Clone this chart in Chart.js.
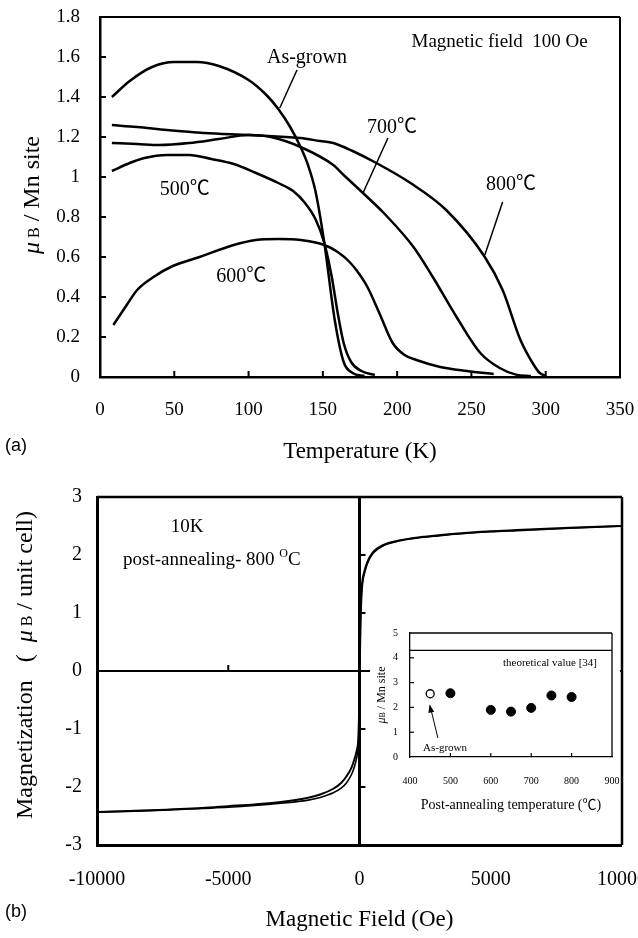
<!DOCTYPE html>
<html>
<head>
<meta charset="utf-8">
<script src="https://cdn.jsdelivr.net/npm/chart.js@4.4.0/dist/chart.umd.min.js"></script>
<style>
  html, body { margin: 0; padding: 0; background: #fff; }
  #page { position: relative; width: 638px; height: 938px; overflow: hidden; }
  canvas { position: absolute; }
</style>
</head>
<body>
<div id="page">
  <canvas id="mt" width="638" height="470" style="left:0;top:0"></canvas>
  <canvas id="mh" width="638" height="468" style="left:0;top:470px"></canvas>
  <canvas id="ms" width="250" height="196" style="left:370px;top:622px"></canvas>
</div>
<script>
// (a) magnetisation vs temperature, field 100 Oe
const tAsGrown = [8, 20, 35, 50, 65, 80, 100, 112, 120, 128, 135, 140, 145, 151, 158, 164, 170, 178];
const mAsGrown = [1.40, 1.48, 1.55, 1.575, 1.575, 1.555, 1.485, 1.41, 1.34, 1.25, 1.15, 1.06, 0.93, 0.67, 0.285, 0.075, 0.02, 0.005];
const t500 = [8, 20, 30, 45, 60, 75, 90, 105, 120, 130, 138, 145, 151, 156, 160, 164, 169, 176, 185];
const m500 = [1.03, 1.07, 1.095, 1.11, 1.11, 1.09, 1.065, 1.02, 0.97, 0.93, 0.87, 0.79, 0.67, 0.50, 0.32, 0.17, 0.075, 0.03, 0.01];
const t600 = [9, 18, 25, 36, 49, 67, 90, 105, 120, 135, 151, 160, 168, 175, 180, 188, 197, 205, 213, 229, 247, 265];
const m600 = [0.26, 0.36, 0.435, 0.50, 0.555, 0.60, 0.66, 0.685, 0.69, 0.685, 0.66, 0.625, 0.575, 0.51, 0.45, 0.32, 0.17, 0.11, 0.085, 0.05, 0.03, 0.015];
const t700 = [8, 25, 40, 60, 80, 100, 115, 135, 157, 164, 177, 191, 211, 224, 240, 256, 269, 280, 290];
const m700 = [1.17, 1.165, 1.16, 1.17, 1.19, 1.21, 1.20, 1.15, 1.06, 1.01, 0.92, 0.82, 0.65, 0.50, 0.30, 0.12, 0.045, 0.012, 0.005];
const t800 = [8, 25, 45, 70, 101, 125, 135, 148, 157, 170, 186, 209, 233, 259, 271, 283, 292, 296, 300];
const m800 = [1.26, 1.25, 1.235, 1.22, 1.21, 1.20, 1.195, 1.18, 1.17, 1.13, 1.07, 0.97, 0.835, 0.60, 0.435, 0.185, 0.06, 0.02, 0.005];

// (b) M–H loop at 10 K, both sweep directions on one field grid
const field = [-10000, -8000, -6000, -5000, -4000, -3000, -2000, -1500, -1000, -700, -500, -300, -200, -100, -50, -20, 0,
  20, 50, 100, 200, 300, 500, 700, 1000, 1500, 2000, 3000, 4000, 5000, 6000, 8000, 10000];
const mSweepDown = [-2.43, -2.40, -2.36, -2.33, -2.30, -2.26, -2.19, -2.13, -2.03, -1.93, -1.82, -1.66, -1.53, -1.36, -1.2, -0.8, -0.15,
  0.6, 1.2, 1.52, 1.74, 1.88, 2.04, 2.12, 2.19, 2.25, 2.29, 2.34, 2.38, 2.41, 2.43, 2.47, 2.50];
const mSweepUp = [-2.43, -2.41, -2.37, -2.35, -2.32, -2.28, -2.23, -2.18, -2.10, -2.02, -1.93, -1.78, -1.66, -1.48, -1.33, -1.1, -0.6,
  0.15, 0.9, 1.42, 1.70, 1.85, 2.02, 2.10, 2.18, 2.24, 2.28, 2.33, 2.37, 2.40, 2.42, 2.46, 2.50];

// inset: saturation moment vs post-annealing temperature
const annealTemp = [500, 600, 650, 700, 750, 800];
const annealMoment = [2.57, 1.9, 1.83, 1.98, 2.48, 2.42];
const asGrownTemp = [450];
const asGrownMoment = [2.55];
const theoryValue = 4.3;

const SERIF = "'Liberation Serif', 'Noto Sans CJK JP', serif";
const font = (size, style) => (style ? style + ' ' : '') + size + 'px ' + SERIF;

Chart.defaults.font.family = SERIF;
Chart.defaults.color = '#000';
Chart.defaults.animation = false;
Chart.defaults.plugins.legend.display = false;
Chart.defaults.plugins.tooltip.enabled = false;

const zip = (xs, ys) => xs.map((x, i) => ({ x, y: ys[i] }));
const trimNum = v => String(+v.toFixed(2));

// keep the plot box where it is, end labels may hang over the edges
function fixSize(size, horizontal) {
  return s => {
    if (horizontal) s.height = size; else s.width = size;
    s.paddingLeft = s.paddingRight = s.paddingTop = s.paddingBottom = 0;
  };
}

function curve(xs, ys, width) {
  return {
    data: zip(xs, ys),
    showLine: true,
    borderColor: '#000',
    borderWidth: width,
    pointRadius: 0,
    cubicInterpolationMode: 'monotone',
  };
}

function seg(ctx, x1, y1, x2, y2, w) {
  ctx.save();
  ctx.strokeStyle = '#000';
  ctx.lineWidth = w;
  ctx.beginPath();
  ctx.moveTo(x1, y1);
  ctx.lineTo(x2, y2);
  ctx.stroke();
  ctx.restore();
}

// text made of pieces with their own fonts; y is the baseline
function rich(ctx, x, y, parts, opts = {}) {
  ctx.save();
  ctx.translate(x, y);
  if (opts.rotate) ctx.rotate(-Math.PI / 2);
  let width = 0;
  parts.forEach(p => { ctx.font = p.font; width += ctx.measureText(p.text).width; });
  let cx = opts.align === 'left' ? 0 : -width / 2;
  ctx.fillStyle = '#000';
  ctx.textBaseline = 'alphabetic';
  ctx.textAlign = 'left';
  parts.forEach(p => {
    ctx.font = p.font;
    ctx.fillText(p.text, cx, p.dy || 0);
    cx += ctx.measureText(p.text).width;
  });
  ctx.restore();
}

function label(ctx, text, x, y, f, align) {
  ctx.save();
  ctx.font = f;
  ctx.fillStyle = '#000';
  ctx.textAlign = align || 'center';
  ctx.textBaseline = 'middle';
  ctx.fillText(text, x, y);
  ctx.restore();
}

const at = (chart, x, y) => [chart.scales.x.getPixelForValue(x), chart.scales.y.getPixelForValue(y)];

function frameTopRight(chart, w) {
  const { ctx, chartArea: a } = chart;
  seg(ctx, a.left, a.top, a.right, a.top, w);
  seg(ctx, a.right, a.top, a.right, a.bottom, w);
}

// ---------- (a) ----------
new Chart(document.getElementById('mt'), {
  type: 'scatter',
  data: {
    datasets: [
      curve(tAsGrown, mAsGrown, 2.5),
      curve(t500, m500, 2.5),
      curve(t600, m600, 2.5),
      curve(t700, m700, 2.5),
      curve(t800, m800, 2.5),
    ],
  },
  options: {
    responsive: false,
    layout: { padding: { top: 17, right: 18, left: 0, bottom: 0 } },
    scales: {
      x: {
        type: 'linear', min: 0, max: 350,
        ticks: { stepSize: 50, padding: 14, font: { size: 19 }, callback: v => String(v) },
        grid: { display: false },
        border: { color: '#000', width: 2.5 },
        afterFit: fixSize(93, true),
      },
      y: {
        type: 'linear', min: 0, max: 1.8,
        ticks: { stepSize: 0.2, padding: 12, font: { size: 19 }, callback: trimNum },
        grid: { display: false },
        border: { color: '#000', width: 2.5 },
        afterFit: fixSize(100, false),
      },
    },
  },
  plugins: [{
    id: 'mtDecor',
    afterDraw(chart) {
      const { ctx, chartArea: a } = chart;
      frameTopRight(chart, 2);
      chart.scales.x.ticks.forEach(t => {
        if (t.value <= 0 || t.value >= 350) return;
        const x = chart.scales.x.getPixelForValue(t.value);
        seg(ctx, x, a.bottom, x, a.bottom - 6, 2);
      });
      chart.scales.y.ticks.forEach(t => {
        if (t.value <= 0 || t.value >= 1.8) return;
        const y = chart.scales.y.getPixelForValue(t.value);
        seg(ctx, a.left, y, a.left + 6, y, 2);
      });

      // leader lines from the labels to their curves
      [[[132.6, 1.535], [121, 1.345]], [[193.8, 1.195], [177, 0.92]], [[271, 0.875], [259, 0.61]]]
        .forEach(([p, q]) => {
          const [x1, y1] = at(chart, p[0], p[1]);
          const [x2, y2] = at(chart, q[0], q[1]);
          seg(ctx, x1, y1, x2, y2, 1.5);
        });

      const f20 = font(20);
      label(ctx, 'As-grown', ...at(chart, 139.3, 1.595), f20);
      label(ctx, 'Magnetic field  100 Oe', ...at(chart, 269, 1.675), font(19));
      label(ctx, '700℃', ...at(chart, 196.5, 1.245), f20);
      label(ctx, '800℃', ...at(chart, 276.6, 0.96), f20);
      label(ctx, '500℃', ...at(chart, 57, 0.935), f20);
      label(ctx, '600℃', ...at(chart, 95, 0.50), f20);

      label(ctx, 'Temperature (K)', (a.left + a.right) / 2, a.bottom + 75, font(23));
      rich(ctx, 31 + 8, 195, [
        { text: 'μ', font: font(24, 'italic') },
        { text: ' B', font: font(16) },
        { text: ' / Mn site', font: font(24) },
      ], { rotate: true });
      label(ctx, '(a)', 5, 446, "18px 'Liberation Sans', sans-serif", 'left');
    },
  }],
});

// ---------- (b) ----------
const zeroOnly = (on, off) => c => (c.tick && c.tick.value === 0 ? on : off);

new Chart(document.getElementById('mh'), {
  type: 'scatter',
  data: {
    datasets: [
      curve(field, mSweepDown, 2),
      curve(field, mSweepUp, 1.6),
    ],
  },
  options: {
    responsive: false,
    layout: { padding: { top: 27, right: 16, left: 0, bottom: 0 } },
    scales: {
      x: {
        type: 'linear', min: -10000, max: 10000,
        ticks: { stepSize: 5000, padding: 23, font: { size: 20 }, callback: v => String(v) },
        grid: { drawTicks: false, color: zeroOnly('#000', 'rgba(0,0,0,0)'), lineWidth: zeroOnly(3, 0) },
        border: { color: '#000', width: 3 },
        afterFit: fixSize(93, true),
      },
      y: {
        type: 'linear', min: -3, max: 3,
        ticks: { stepSize: 1, padding: 15, font: { size: 20 }, callback: v => String(v) },
        grid: { drawTicks: false, color: zeroOnly('#000', 'rgba(0,0,0,0)'), lineWidth: zeroOnly(2, 0) },
        border: { color: '#000', width: 3 },
        afterFit: fixSize(97, false),
      },
    },
  },
  plugins: [{
    id: 'mhDecor',
    afterDraw(chart) {
      const { ctx, chartArea: a } = chart;
      frameTopRight(chart, 2.5);
      const [x0, y0] = at(chart, 0, 0);
      [-5000, 5000].forEach(v => {
        const x = chart.scales.x.getPixelForValue(v);
        seg(ctx, x, y0, x, y0 - 6, 2);
      });
      [-2, -1, 1, 2].forEach(v => {
        const y = chart.scales.y.getPixelForValue(v);
        seg(ctx, x0, y, x0 + 6, y, 2);
      });

      label(ctx, '10K', ...at(chart, -6565, 2.48), font(19));
      const [px, py] = at(chart, -9008, 1.95);
      rich(ctx, px, py + 7, [
        { text: 'post-annealing- 800 ', font: font(19) },
        { text: 'O', font: font(12), dy: -8 },
        { text: 'C', font: font(19) },
      ], { align: 'left' });

      label(ctx, 'Magnetic Field (Oe)', (a.left + a.right) / 2, a.bottom + 75, font(23));
      rich(ctx, 24 + 8, 195, [
        { text: 'Magnetization   (  ', font: font(24) },
        { text: 'μ', font: font(24, 'italic') },
        { text: ' B', font: font(16) },
        { text: ' / unit cell)', font: font(24) },
      ], { rotate: true });
      label(ctx, '(b)', 5, 442, "18px 'Liberation Sans', sans-serif", 'left');
    },
  }],
});

// ---------- inset ----------
new Chart(document.getElementById('ms'), {
  type: 'scatter',
  data: {
    datasets: [
      { data: [{ x: 400, y: theoryValue }, { x: 900, y: theoryValue }], showLine: true,
        borderColor: '#000', borderWidth: 1.2, pointRadius: 0 },
      { data: zip(annealTemp, annealMoment), pointRadius: 4.5, backgroundColor: '#000', borderColor: '#000' },
      { data: zip(asGrownTemp, asGrownMoment), pointRadius: 4, backgroundColor: '#fff',
        borderColor: '#000', borderWidth: 1.3 },
    ],
  },
  options: {
    responsive: false,
    layout: { padding: { top: 11, right: 8, left: 0, bottom: 0 } },
    scales: {
      x: {
        type: 'linear', min: 400, max: 900,
        ticks: { stepSize: 100, padding: 10, font: { size: 10 }, callback: v => String(v) },
        grid: { display: false },
        border: { color: '#000', width: 1.3 },
        afterFit: fixSize(61, true),
      },
      y: {
        type: 'linear', min: 0, max: 5,
        ticks: { stepSize: 1, padding: 4, font: { size: 10 }, callback: v => String(v) },
        grid: { display: false },
        border: { color: '#000', width: 1.3 },
        afterFit: fixSize(40, false),
      },
    },
  },
  plugins: [{
    id: 'insetDecor',
    beforeDraw(chart) {
      const { ctx, width, height } = chart;
      ctx.save();
      ctx.fillStyle = '#fff';
      ctx.fillRect(0, 0, width, height);
      ctx.restore();
    },
    afterDraw(chart) {
      const { ctx, chartArea: a } = chart;
      frameTopRight(chart, 1.3);
      chart.scales.x.ticks.forEach(t => {
        if (t.value <= 400 || t.value >= 900) return;
        const x = chart.scales.x.getPixelForValue(t.value);
        seg(ctx, x, a.bottom, x, a.bottom - 4, 1.2);
      });
      chart.scales.y.ticks.forEach(t => {
        if (t.value <= 0 || t.value >= 5) return;
        const y = chart.scales.y.getPixelForValue(t.value);
        seg(ctx, a.left, y, a.left + 4, y, 1.2);
      });

      label(ctx, 'theoretical value [34]', ...at(chart, 746.5, 3.8), font(11));
      label(ctx, 'As-grown', ...at(chart, 486.6, 0.36), font(11));
      // arrow from the label up to the open circle
      const [ax, ay] = at(chart, 469, 0.77);
      const [bx, by] = at(chart, 449.5, 2.2);
      seg(ctx, ax, ay, bx, by + 3, 1);
      ctx.save();
      const ang = Math.atan2(by - ay, bx - ax);
      ctx.translate(bx, by + 4);
      ctx.rotate(ang);
      ctx.beginPath();
      ctx.moveTo(2, 0);
      ctx.lineTo(-6, -3);
      ctx.lineTo(-6, 3);
      ctx.closePath();
      ctx.fillStyle = '#000';
      ctx.fill();
      ctx.restore();

      label(ctx, 'Post-annealing temperature (℃)', (a.left + a.right) / 2, a.bottom + 48, font(14));
      rich(ctx, 11 + 4, (a.top + a.bottom) / 2, [
        { text: 'μ', font: font(12, 'italic') },
        { text: 'B', font: font(8) },
        { text: ' / Mn site', font: font(12) },
      ], { rotate: true });
    },
  }],
});
</script>
</body>
</html>
